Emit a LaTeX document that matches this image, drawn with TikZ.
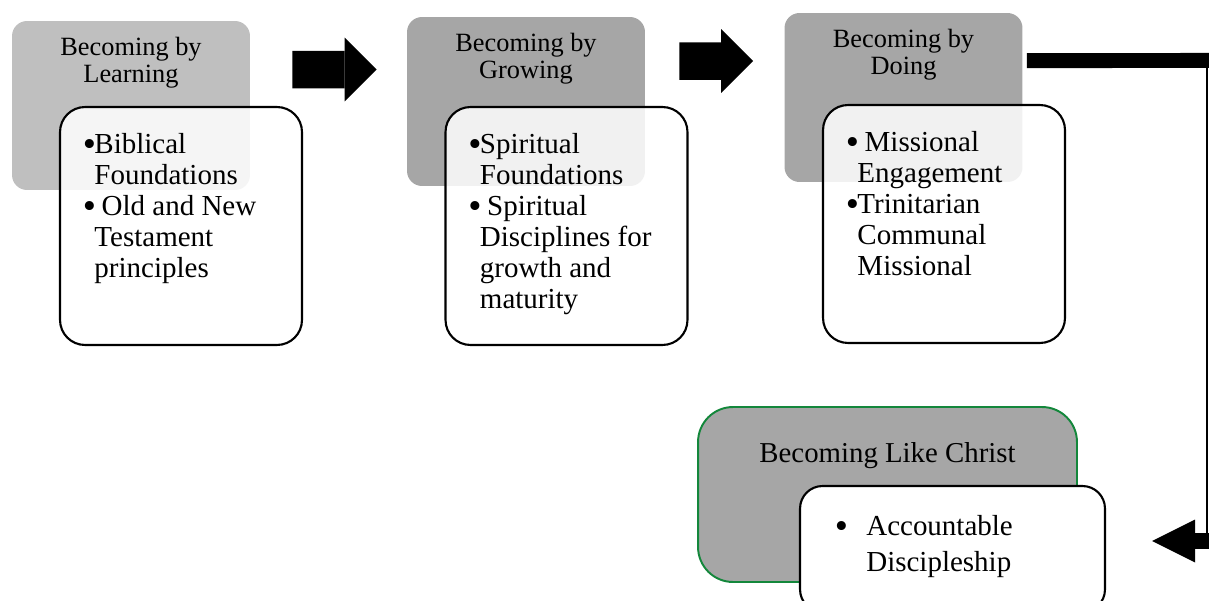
\documentclass[tikz,border=0pt]{standalone}
\usepackage{fontspec}
\setmainfont{Liberation Serif}
\usepackage{tikz}
\usetikzlibrary{arrows.meta, positioning}
\definecolor{greyA}{HTML}{BFBFBF}
\definecolor{greyB}{HTML}{A6A6A6}
\definecolor{frameGreen}{HTML}{13873B}
\tikzstyle{stage} = [rectangle, rounded corners=0.3cm, minimum width=4.76cm, minimum height=3.38cm, inner sep=0pt, fill=greyB]
\tikzstyle{stagelast} = [rectangle, rounded corners=0.7cm, minimum width=7.58cm, minimum height=3.5cm, inner sep=0pt, fill=greyB, draw=frameGreen, line width=1.1pt]
\tikzstyle{detail} = [rectangle, rounded corners=0.5cm, minimum width=4.84cm, minimum height=4.76cm, inner sep=0pt, draw=black, line width=1.2pt, fill=white, fill opacity=0.85]
\tikzstyle{detaillast} = [rectangle, rounded corners=0.45cm, minimum width=6.1cm, minimum height=2.52cm, inner sep=0pt, draw=black, line width=1.2pt, fill=white]
\tikzstyle{heading} = [anchor=base, inner sep=0pt, font=\fontsize{15}{15}\selectfont]
\tikzstyle{points} = [anchor=base west, inner sep=0pt, font=\fontsize{16.5}{17.6}\selectfont]
\tikzstyle{fatarrow} = [line width=0.75cm, -{Triangle[length=0.64cm, width=1.28cm, line width=0pt]}]
\newcommand{\bul}{\makebox[0.35em][c]{\raisebox{-0.08em}{\scalebox{1.3}{\textbullet}}}}

\begin{document}
\begin{tikzpicture}[x=0.02cm, y=-0.02cm]
        \useasboundingbox (0,0) rectangle (1209,601);
        \node (learn) [stage, fill=greyA] at (131,105.5) {};
        \node (grow) [stage] at (526,101.5) {};
        \node (doing) [stage] at (903.5,97.5) {};
        \node (christ) [stagelast] at (887.5,494.5) {};
        \node (learnT) [heading] at ([yshift=-0.7cm]learn.north) {\begin{tabular}[t]{@{}c@{}}Becoming by\\Learning\end{tabular}};
        \node (growT) [heading] at ([yshift=-0.7cm]grow.north) {\begin{tabular}[t]{@{}c@{}}Becoming by\\Growing\end{tabular}};
        \node (doingT) [heading] at ([yshift=-0.7cm]doing.north) {\begin{tabular}[t]{@{}c@{}}Becoming by\\Doing\end{tabular}};
        \node (christT) [heading, font=\fontsize{16.4}{16.4}\selectfont] at ([yshift=-1.12cm]christ.north) {Becoming Like Christ};
        \node (learnD) [detail] at (181,226) {};
        \node (growD) [detail] at (566.5,226) {};
        \node (doingD) [detail] at (944,224) {};
        \node (christD) [detaillast] at (952.5,549) {};
        \node (learnP) [points] at ([xshift=0.5cm, yshift=-0.96cm]learnD.north west) {\begin{tabular}[t]{@{}l@{}l@{}}\bul&Biblical\\&Foundations\\\bul&\ Old and New\\&Testament\\&principles\end{tabular}};
        \node (growP) [points] at ([xshift=0.5cm, yshift=-0.96cm]growD.north west) {\begin{tabular}[t]{@{}l@{}l@{}}\bul&Spiritual\\&Foundations\\\bul&\ Spiritual\\&Disciplines for\\&growth and\\&maturity\end{tabular}};
        \node (doingP) [points] at ([xshift=0.5cm, yshift=-0.96cm]doingD.north west) {\begin{tabular}[t]{@{}l@{}l@{}}\bul&\ Missional\\&Engagement\\\bul&Trinitarian\\&Communal\\&Missional\end{tabular}};
        \node (christP) [points, font=\fontsize{16.5}{20.5}\selectfont] at ([xshift=0.74cm, yshift=-1.02cm]christD.north west) {\begin{tabular}[t]{@{}p{0.6cm}@{}l@{}}\bul&Accountable\\&Discipleship\end{tabular}};
        \coordinate (turnA) at (1207,60.5);
        \coordinate (turnB) at (1207,541);
        \draw [fatarrow, shorten <=0.84cm, shorten >=0.6cm] ([yshift=0.72cm]learn.east) -- ([yshift=0.64cm]grow.west);
        \draw [fatarrow, shorten <=0.68cm, shorten >=0.62cm] ([yshift=0.81cm]grow.east) -- ([yshift=0.73cm]doing.west);
        \draw [line width=0.3cm, shorten <=0.08cm] ([yshift=0.74cm]doing.east) -- ([xshift=0.1cm]turnA);
        \draw [line width=0.04cm] (turnA) -- (turnB);
        \draw [line width=0.32cm, shorten >=0.92cm, -{Triangle[length=0.86cm, width=0.86cm, line width=0pt]}] ([xshift=0.1cm]turnB) -- (christD.east |- turnB);
\end{tikzpicture}
\end{document}
